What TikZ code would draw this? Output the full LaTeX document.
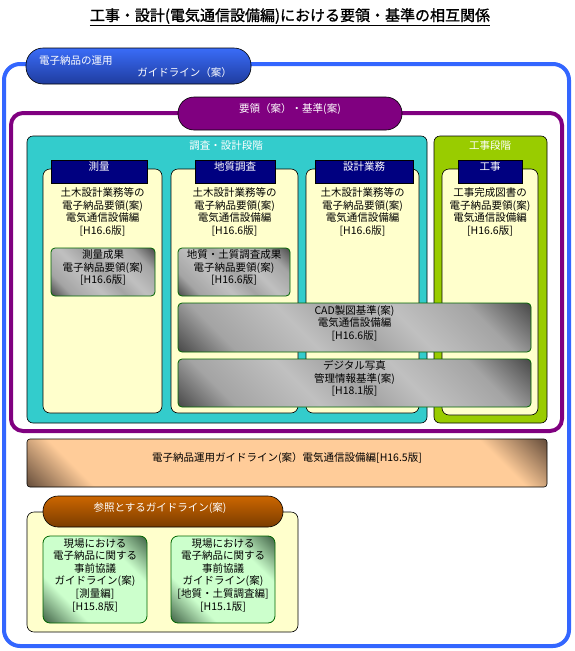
\documentclass[tikz,border=0pt]{standalone}
\usepackage{fontspec}
\setmainfont{Noto Sans CJK JP}
\newfontfamily\titlefont[FakeBold=1.2]{Noto Sans CJK JP}
\usetikzlibrary{fit}
\definecolor{blueline}{HTML}{3366FF}
\definecolor{bluetop}{HTML}{3A6CF8}
\definecolor{bluebot}{HTML}{1F3C9E}
\definecolor{purp}{HTML}{800080}
\definecolor{cyanfill}{HTML}{33CCCC}
\definecolor{stagegreen}{HTML}{99CC00}
\definecolor{colyellow}{HTML}{FFFFCC}
\definecolor{navy}{HTML}{000080}
\definecolor{gborder}{HTML}{006600}
\definecolor{gdark}{HTML}{4C4C4C}
\definecolor{gmid}{HTML}{A4A4A4}
\definecolor{glight}{HTML}{C0C0C0}
\definecolor{pdark}{HTML}{6E5440}
\definecolor{peach}{HTML}{FFCC99}
\definecolor{lgreen}{HTML}{CCFFCC}
\definecolor{dgreen}{HTML}{4A6E50}
\definecolor{browntop}{HTML}{CC6600}
\definecolor{brownbot}{HTML}{7A3C00}
\pgfdeclareverticalshading{grayshade}{100bp}{color(0bp)=(gdark); color(15bp)=(gdark); color(25bp)=(gmid); color(40bp)=(glight); color(50bp)=(gmid); color(60bp)=(glight); color(74bp)=(gmid); color(85bp)=(gdark); color(100bp)=(gdark)}
\pgfdeclareverticalshading{peachshade}{100bp}{color(0bp)=(pdark); color(15bp)=(pdark); color(23bp)=(peach); color(77bp)=(peach); color(85bp)=(pdark); color(100bp)=(pdark)}
\pgfdeclareverticalshading{greenshade}{100bp}{color(0bp)=(dgreen); color(16bp)=(dgreen); color(32bp)=(lgreen); color(68bp)=(lgreen); color(84bp)=(dgreen); color(100bp)=(dgreen)}
\begin{document}
\begin{tikzpicture}[x=1pt,y=-1pt,
  font=\fontsize{10.5}{12.6}\selectfont,
  every node/.style={inner sep=0pt, align=center},
  outerframe/.style={draw=blueline, line width=4pt, rounded corners=16pt},
  innerframe/.style={draw=purp, line width=4pt, rounded corners=12pt},
  bluepill/.style={draw=black, line width=0.6pt, rounded corners=17pt, top color=bluetop, bottom color=bluebot},
  purppill/.style={draw=black, line width=0.6pt, rounded corners=16pt, fill=purp},
  brownpill/.style={draw=black, line width=0.6pt, rounded corners=15pt, top color=browntop, bottom color=brownbot},
  stagebox/.style={draw=black, line width=0.6pt, rounded corners=6pt},
  colbox/.style={draw=black, line width=0.6pt, rounded corners=7pt, fill=colyellow},
  hdrbox/.style={draw=black, line width=0.6pt, fill=navy},
  whitetext/.style={text=white},
  graybox/.style={draw=gborder, line width=0.8pt, rounded corners=4pt, shading=grayshade, shading angle=-45},
  peachbox/.style={draw=black, line width=0.6pt, rounded corners=3pt, shading=peachshade, shading angle=-45},
  greenbox/.style={draw=gborder, line width=0.8pt, rounded corners=7pt, shading=greenshade, shading angle=-45}
]
\useasboundingbox (0,0) rectangle (574,651);
\fill[white] (0,0) rectangle (574,651);

% title
\node[font=\titlefont\fontsize{15}{18}\selectfont] (title) at (290,17) {\underline{工事・設計(電気通信設備編)における要領・基準の相互関係}};

% outer frame
\draw[outerframe] (4,64) rectangle (569,646);
\node[bluepill, fit={(26,48) (251,84)}] (opguide) {};
\node[whitetext, anchor=west] (opguide1) at (39,61) {電子納品の運用};
\node[whitetext, anchor=east] (opguide2) at (232,73) {ガイドライン（案）};

% purple frame
\draw[innerframe] (11,113) rectangle (562,431);
\node[purppill, fit={(178,97) (402,130)}, whitetext] (yoryo) {要領（案）・基準(案)};

% stages
\node[stagebox, fill=cyanfill, fit={(27,136) (427,423)}] (survey) {};
\node[whitetext] (surveylbl) at (226,146) {調査・設計段階};
\node[stagebox, fill=stagegreen, fit={(434,136) (547,423)}] (works) {};
\node[whitetext] (workslbl) at (490,146) {工事段階};

% columns
\node[colbox, fit={(43,169) (162,413)}] (col1) {};
\node[colbox, fit={(171,169) (298,413)}] (col2) {};
\node[colbox, fit={(306,169) (419,413)}] (col3) {};
\node[colbox, fit={(442,169) (538,415)}] (col4) {};

% headers
\node[hdrbox, fit={(51,160) (147,183)}] (h1) {};
\node[hdrbox, fit={(195,160) (275,183)}] (h2) {};
\node[hdrbox, fit={(315,160) (413,183)}] (h3) {};
\node[hdrbox, fit={(458,160) (522,183)}] (h4) {};
\node[whitetext] (h1t) at (99,166.5) {測量};
\node[whitetext] (h2t) at (235,166.5) {地質調査};
\node[whitetext] (h3t) at (364,166.5) {設計業務};
\node[whitetext] (h4t) at (490,166.5) {工事};

% column texts
\node (c1t) at (102.5,212) {土木設計業務等の\\電子納品要領(案)\\電気通信設備編\\{}[H16.6版]};
\node (c2t) at (234.5,212) {土木設計業務等の\\電子納品要領(案)\\電気通信設備編\\{}[H16.6版]};
\node (c3t) at (362.5,212) {土木設計業務等の\\電子納品要領(案)\\電気通信設備編\\{}[H16.6版]};
\node (c4t) at (490,212) {工事完成図書の\\電子納品要領(案)\\電気通信設備編\\{}[H16.6版]};

% gray boxes
\node[graybox, fit={(51,248) (155,296)}] (g1) {測量成果\\電子納品要領(案)\\{}[H16.6版]};
\node[graybox, fit={(178,248) (290,296)}] (g2) {地質・土質調査成果\\電子納品要領(案)\\{}[H16.6版]};
\node[graybox, fit={(178,303) (531,352)}] (cad) {CAD製図基準(案)\\電気通信設備編\\{}[H16.6版]};
\node[graybox, fit={(178,359) (531,407)}] (photo) {デジタル写真\\管理情報基準(案)\\{}[H18.1版]};

% peach bar
\node[peachbox, fit={(27,439) (547,487)}] (opbar) {電子納品運用ガイドライン(案）電気通信設備編[H16.5版]};

% reference guidelines
\node[colbox, fit={(27,512) (298,632)}] (refgrp) {};
\node[brownpill, fit={(43,496) (283,527)}] (refpill) {};
\node[whitetext] (refpillt) at (160,508) {参照とするガイドライン(案)};
\node[greenbox, fit={(43,536) (147,623)}] (ref1) {現場における\\電子納品に関する\\事前協議\\ガイドライン(案)\\{}[測量編]\\{}[H15.8版]};
\node[greenbox, fit={(171,536) (275,623)}] (ref2) {現場における\\電子納品に関する\\事前協議\\ガイドライン(案)\\{}[地質・土質調査編]\\{}[H15.1版]};
\end{tikzpicture}
\end{document}
